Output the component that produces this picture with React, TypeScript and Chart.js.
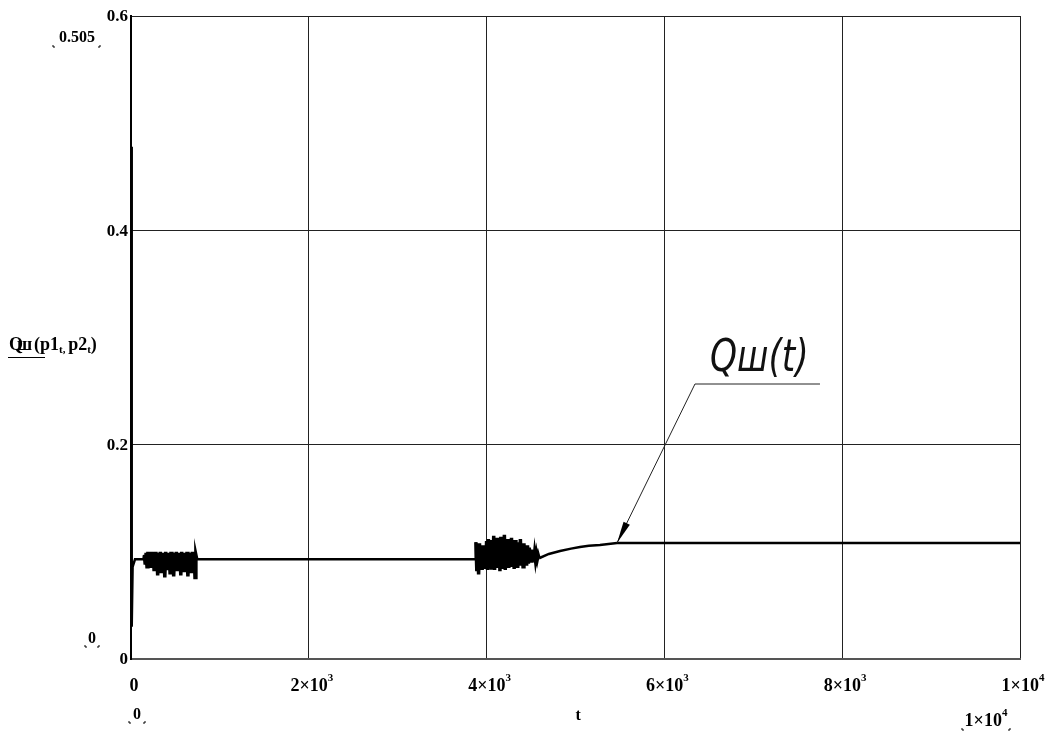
import React, { useEffect, useRef } from "react";
import { Chart, registerables } from "chart.js";

Chart.register(...registerables);

// ---- data ----
const startT = [0, 8, 18, 45, 140];
const startQ = [0.478, 0.03, 0.086, 0.093, 0.093];

const burst1T = [150, 160, 170, 180, 190, 200, 210, 220, 230, 240, 250, 260, 270, 280, 290, 300, 310, 320, 330, 340, 350, 360, 370, 380, 390, 400, 410, 420, 430, 440, 450, 460, 470, 480, 490, 500, 510, 520, 530, 540, 550, 560, 570, 580, 590, 600, 610, 620, 630, 640, 650, 660, 670, 680, 690, 700, 710, 720, 730, 740];
const burst1Q = [
  0.097, 0.088, 0.099, 0.086, 0.1, 0.087, 0.099, 0.085, 0.1, 0.086,
  0.099, 0.082, 0.1, 0.084, 0.098, 0.078, 0.099, 0.085, 0.1, 0.08,
  0.099, 0.084, 0.098, 0.076, 0.1, 0.083, 0.099, 0.085, 0.098, 0.079,
  0.1, 0.084, 0.099, 0.077, 0.098, 0.085, 0.1, 0.082, 0.099, 0.086,
  0.098, 0.078, 0.1, 0.084, 0.099, 0.081, 0.098, 0.085, 0.1, 0.077,
  0.099, 0.084, 0.098, 0.08, 0.1, 0.085, 0.099, 0.076, 0.097, 0.093,
];

const plateauT = [760, 3870];
const plateauQ = [0.093, 0.093];

const burst2T = [3880, 3890, 3900, 3910, 3920, 3930, 3940, 3950, 3960, 3970, 3980, 3990, 4000, 4010, 4020, 4030, 4040, 4050, 4060, 4070, 4080, 4090, 4100, 4110, 4120, 4130, 4140, 4150, 4160, 4170, 4180, 4190, 4200, 4210, 4220, 4230, 4240, 4250, 4260, 4270, 4280, 4290, 4300, 4310, 4320, 4330, 4340, 4350, 4360, 4370, 4380, 4390, 4400, 4410, 4420, 4430, 4440, 4450, 4460, 4470, 4480, 4490, 4500, 4510, 4520, 4530, 4540, 4550, 4560, 4570, 4580, 4590];
const burst2Q = [
  0.109, 0.082, 0.105, 0.079, 0.108, 0.085, 0.103, 0.083, 0.106, 0.086,
  0.104, 0.084, 0.11, 0.083, 0.112, 0.086, 0.107, 0.085, 0.111, 0.084,
  0.115, 0.083, 0.109, 0.087, 0.113, 0.085, 0.108, 0.082, 0.114, 0.086,
  0.11, 0.084, 0.116, 0.083, 0.107, 0.088, 0.112, 0.085, 0.109, 0.086,
  0.113, 0.087, 0.106, 0.084, 0.111, 0.088, 0.104, 0.085, 0.109, 0.087,
  0.112, 0.088, 0.105, 0.086, 0.108, 0.089, 0.103, 0.087, 0.106, 0.089,
  0.104, 0.09, 0.102, 0.09, 0.1, 0.091, 0.099, 0.092, 0.098, 0.093,
  0.097, 0.094,
];

const riseT = [4700, 4826, 4950, 5050, 5150, 5275, 5467, 10000];
const riseQ = [0.098, 0.1008, 0.103, 0.1046, 0.1056, 0.1064, 0.1083, 0.1083];

const xTickValues = [0, 2000, 4000, 6000, 8000, 10000];
const xTickMant = ["0", "2", "4", "6", "8", "1"];
const xTickExp = ["", "3", "3", "3", "3", "4"];
const yTickValues = [0, 0.2, 0.4, 0.6];
const yTickLabels = ["0", "0.2", "0.4", "0.6"];

const annotationText = "Qш(t)";
const annotationTip = { t: 5467, q: 0.1083 };
const annotationElbow = { t: 6344, q: 0.2566 };
const annotationEndT = 7750;

const W = 1051;
const H = 733;
const TICK_FONT = 'bold 18px "Liberation Serif", serif';
const SUP_FONT = 'bold 11px "Liberation Serif", serif';

function buildPoints() {
  const pts: { x: number; y: number }[] = [];
  const add = (ts: number[], qs: number[]) => ts.forEach((t, i) => pts.push({ x: t, y: qs[i] }));
  add(startT, startQ);
  add(burst1T, burst1Q);
  add(plateauT, plateauQ);
  add(burst2T, burst2Q);
  add(riseT, riseQ);
  return pts;
}

function inBurst(t: number) {
  return (t >= burst1T[0] && t <= burst1T[burst1T.length - 1]) || (t >= burst2T[0] && t <= burst2T[burst2T.length - 1]);
}

function drawSci(ctx: CanvasRenderingContext2D, mant: string, exp: string, cx: number, cy: number) {
  ctx.textBaseline = "middle";
  ctx.textAlign = "left";
  if (!exp) {
    ctx.font = TICK_FONT;
    const w = ctx.measureText(mant).width;
    ctx.fillText(mant, cx - w / 2, cy);
    return;
  }
  const main = mant + "×10";
  ctx.font = TICK_FONT;
  const w1 = ctx.measureText(main).width;
  ctx.font = SUP_FONT;
  const w2 = ctx.measureText(exp).width;
  const x0 = cx - (w1 + w2) / 2;
  ctx.font = TICK_FONT;
  ctx.fillText(main, x0, cy);
  ctx.font = SUP_FONT;
  ctx.fillText(exp, x0 + w1, cy - 8);
}

function limitMarks(ctx: CanvasRenderingContext2D, x0: number, x1: number, y: number) {
  ctx.save();
  ctx.strokeStyle = "#000";
  ctx.lineWidth = 1;
  ctx.beginPath();
  ctx.moveTo(x0, y - 2);
  ctx.lineTo(x0, y);
  ctx.lineTo(x0 + 2, y);
  ctx.moveTo(x1, y - 2);
  ctx.lineTo(x1, y);
  ctx.lineTo(x1 - 2, y);
  ctx.stroke();
  ctx.restore();
}

const textPlugin = {
  id: "mathcadText",
  afterDraw(chart: any) {
    const ctx: CanvasRenderingContext2D = chart.ctx;
    const xs = chart.scales.x;
    const ys = chart.scales.y;
    const area = chart.chartArea;
    ctx.save();
    ctx.fillStyle = "#000";

    // y tick labels
    ctx.font = 'bold 17px "Liberation Serif", serif';
    ctx.textAlign = "right";
    ctx.textBaseline = "middle";
    yTickValues.forEach((v, i) => {
      ctx.fillText(yTickLabels[i], area.left - 3, ys.getPixelForValue(v) + 1);
    });

    // x tick labels
    xTickValues.forEach((v, i) => {
      drawSci(ctx, xTickMant[i], xTickExp[i], xs.getPixelForValue(v) + 3, area.bottom + 27);
    });

    // Mathcad limit labels
    ctx.font = 'bold 16px "Liberation Serif", serif';
    ctx.textAlign = "center";
    ctx.textBaseline = "middle";
    ctx.fillText("0.505", area.left - 54, area.top + 22);
    limitMarks(ctx, area.left - 78, area.left - 31, area.top + 31);
    ctx.fillText("0", area.left - 39, area.bottom - 20);
    limitMarks(ctx, area.left - 46, area.left - 32, area.bottom - 12);
    ctx.fillText("0", area.left + 6, area.bottom + 56);
    limitMarks(ctx, area.left - 2, area.left + 14, area.bottom + 64);
    drawSci(ctx, "1", "4", area.right - 34, area.bottom + 62);
    limitMarks(ctx, area.right - 58, area.right - 10, area.bottom + 71);

    // x axis name
    ctx.font = 'bold 16px "Liberation Serif", serif';
    ctx.textAlign = "center";
    ctx.fillText("t", xs.getPixelForValue(5030), area.bottom + 57);

    // y axis name: Qш(p1_t, p2_t)
    ctx.textAlign = "left";
    ctx.textBaseline = "alphabetic";
    const base = 350;
    let x = 9;
    const big = 'bold 18px "Liberation Serif", serif';
    const small = 'bold 11px "Liberation Serif", serif';
    const piece = (s: string, f: string, dy: number) => {
      ctx.font = f;
      ctx.fillText(s, x, base + dy);
      x += ctx.measureText(s).width;
    };
    ctx.font = big;
    ctx.fillText("Q", x, base);
    ctx.fillText("ш", x + 8, base);
    x += 25;
    piece("(p1", big, 0);
    piece("t", small, 3);
    piece(", ", small, 3);
    piece("p2", big, 0);
    piece("t", small, 3);
    piece(")", big, 0);
    ctx.strokeStyle = "#000";
    ctx.lineWidth = 1;
    ctx.beginPath();
    ctx.moveTo(8, 357.5);
    ctx.lineTo(45, 357.5);
    ctx.stroke();

    // annotation
    const tipX = xs.getPixelForValue(annotationTip.t);
    const tipY = ys.getPixelForValue(annotationTip.q);
    const elX = xs.getPixelForValue(annotationElbow.t);
    const elY = ys.getPixelForValue(annotationElbow.q);
    const endX = xs.getPixelForValue(annotationEndT);
    ctx.strokeStyle = "#222";
    ctx.lineWidth = 1;
    ctx.beginPath();
    ctx.moveTo(endX, elY);
    ctx.lineTo(elX, elY);
    ctx.lineTo(tipX, tipY);
    ctx.stroke();
    const ang = Math.atan2(tipY - elY, tipX - elX);
    const len = 22;
    const half = 3.5;
    const bx = tipX - len * Math.cos(ang);
    const by = tipY - len * Math.sin(ang);
    ctx.fillStyle = "#000";
    ctx.beginPath();
    ctx.moveTo(tipX, tipY);
    ctx.lineTo(bx + half * Math.sin(ang), by - half * Math.cos(ang));
    ctx.lineTo(bx - half * Math.sin(ang), by + half * Math.cos(ang));
    ctx.closePath();
    ctx.fill();

    ctx.save();
    ctx.translate(elX + 15, elY - 13);
    ctx.scale(0.78, 1);
    ctx.font = 'italic 200 44px "DejaVu Sans", sans-serif';
    ctx.textBaseline = "alphabetic";
    ctx.textAlign = "left";
    ctx.fillStyle = "#111";
    ctx.fillText(annotationText, 0, 0);
    ctx.restore();

    ctx.restore();
  },
};

export default function App() {
  const ref = useRef<HTMLCanvasElement | null>(null);
  useEffect(() => {
    if (!ref.current) return;
    const chart = new Chart(ref.current, {
      type: "line",
      data: {
        datasets: [
          {
            data: buildPoints(),
            borderColor: "#000",
            borderWidth: 2.5,
            pointRadius: 0,
            tension: 0,
            fill: false,
            segment: {
              borderWidth: (c: any) => (inBurst(c.p0.parsed.x) && inBurst(c.p1.parsed.x) ? 3.5 : 2.5),
            },
          } as any,
        ],
      },
      options: {
        responsive: false,
        animation: false,
        events: [],
        layout: { padding: { left: 131, right: 31, top: 16, bottom: 74 } },
        plugins: { legend: { display: false }, tooltip: { enabled: false } },
        scales: {
          x: {
            type: "linear",
            min: 0,
            max: 10000,
            ticks: { display: false, stepSize: 2000 },
            grid: { color: "#222", lineWidth: 1, drawTicks: false },
            border: { display: true, color: "#555", width: 2 },
          },
          y: {
            type: "linear",
            min: 0,
            max: 0.6,
            ticks: { display: false, stepSize: 0.2 },
            grid: { color: "#222", lineWidth: 1, drawTicks: false },
            border: { display: true, color: "#000", width: 2 },
          },
        },
      },
      plugins: [textPlugin],
    });
    return () => chart.destroy();
  }, []);
  return (
    <div style={{ position: "absolute", left: 0, top: 0, width: W, height: H, background: "#fff" }}>
      <canvas ref={ref} width={W} height={H} style={{ width: W, height: H, display: "block" }} />
    </div>
  );
}
